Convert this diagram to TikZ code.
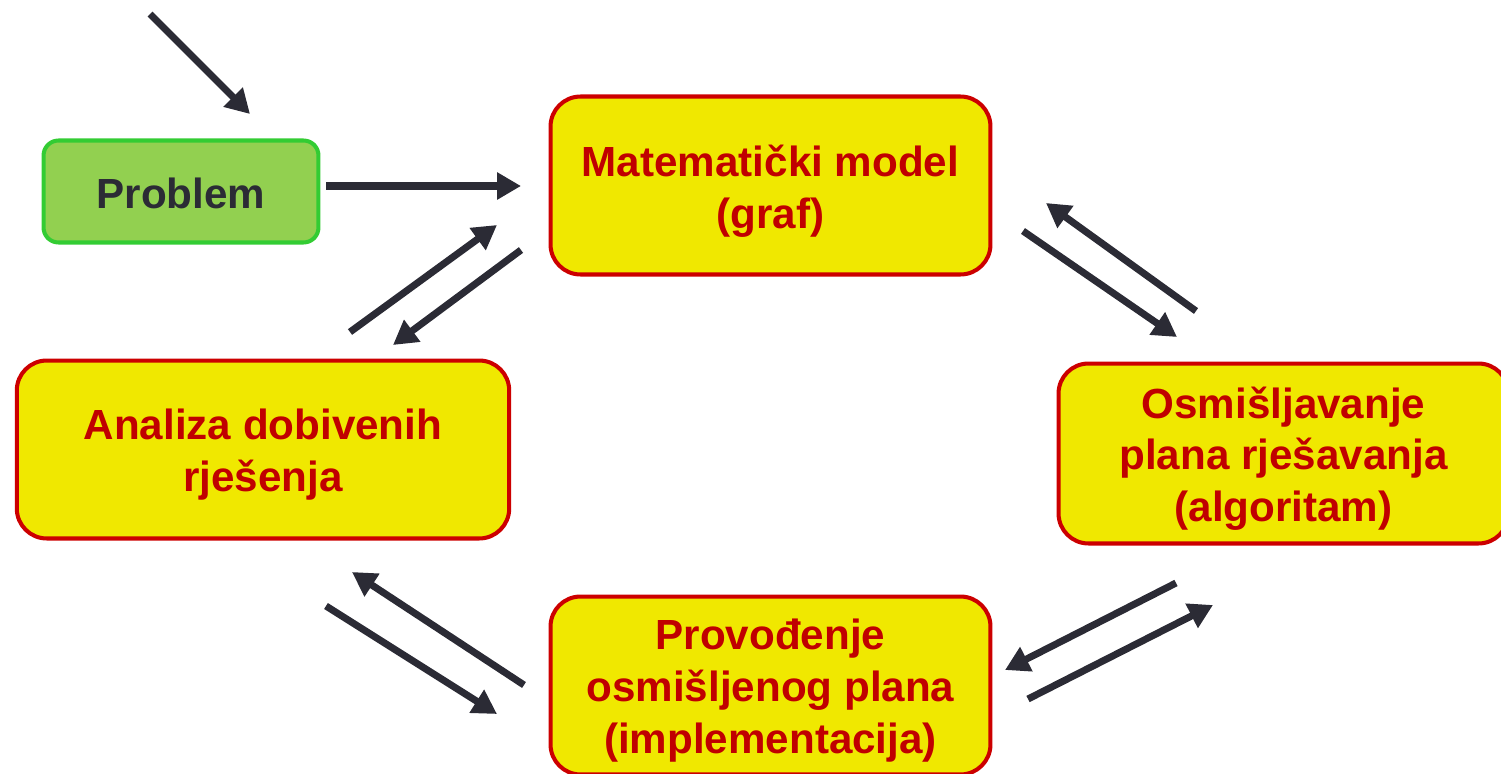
\documentclass[tikz,border=0pt]{standalone}
\usepackage{fontspec}
\setmainfont{Liberation Sans}
\usetikzlibrary{arrows.meta}

\definecolor{boxyellow}{RGB}{240,232,0}
\definecolor{boxred}{RGB}{204,0,0}
\definecolor{textred}{RGB}{192,0,0}
\definecolor{probfill}{RGB}{146,208,80}
\definecolor{probline}{RGB}{51,204,51}
\definecolor{ink}{RGB}{43,43,53}

\begin{document}
\begin{tikzpicture}[x=0.02cm, y=-0.02cm,
  labelfont/.style={font=\fontsize{24}{29.4}\selectfont\bfseries},
  stage/.style={draw=boxred, line width=2.3pt, fill=boxyellow,
    rounded corners=0.6cm, inner sep=0pt},
  stagetext/.style={text=textred, labelfont, align=center, inner sep=0pt},
  startbox/.style={draw=probline, line width=2.3pt, fill=probfill,
    rounded corners=0.3cm, inner sep=0pt},
  starttext/.style={text=ink, labelfont, inner sep=0pt},
  flow/.style={draw=ink, line width=4pt,
    -{Triangle[length=0.48cm, width=0.52cm]}}]

\useasboundingbox (0,0) rectangle (1501,774);
\clip (0,0) rectangle (1501,774);

% boxes of the problem-solving cycle
\node[startbox, minimum width=5.5cm, minimum height=2.04cm] (problem) at (181,191.5) {};
\node[stage, minimum width=8.8cm, minimum height=3.56cm] (model) at (770.5,185.5) {};
\node[stage, minimum width=9.85cm, minimum height=3.56cm] (analysis) at (263,449.5) {};
\node[stage, minimum width=9.0cm, minimum height=3.6cm] (plan) at (1283.5,453.5) {};
\node[stage, minimum width=8.8cm, minimum height=3.56cm] (impl) at (770.5,685.5) {};

% their labels
\node[starttext] (problemText) at ([yshift=-0.04cm]problem.center) {Problem};
\node[stagetext] (modelText) at ([yshift=-0.11cm]model.center)
  {Matematički model\\(graf)};
\node[stagetext] (analysisText) at ([yshift=-0.1cm]analysis.center)
  {Analiza dobivenih\\rješenja};
\node[stagetext] (planText) at ([yshift=-0.1cm]plan.center)
  {Osmišljavanje\\plana rješavanja\\(algoritam)};
\node[stagetext] (implText) at ([yshift=-0.1cm]impl.center)
  {Provođenje\\osmišljenog plana\\(implementacija)};

% arrow ends
\coordinate (entryA) at (150,14);   \coordinate (entryB) at (250,114);
\coordinate (probA)  at (326,186);  \coordinate (probB)  at (521,186);
\coordinate (anUpA)  at (350,332);  \coordinate (anUpB)  at (497,225);
\coordinate (moDnA)  at (521,250);  \coordinate (moDnB)  at (393,345);
\coordinate (moPlA)  at (1023,231); \coordinate (moPlB)  at (1177,337);
\coordinate (plMoA)  at (1196,311); \coordinate (plMoB)  at (1046,203);
\coordinate (plImA)  at (1176,583); \coordinate (plImB)  at (1005,670);
\coordinate (imPlA)  at (1028,699); \coordinate (imPlB)  at (1213,605);
\coordinate (imAnA)  at (524,685);  \coordinate (imAnB)  at (352,572);
\coordinate (anImA)  at (326,606);  \coordinate (anImB)  at (497,714);

% connectors
\draw[flow] (entryA) -- (entryB);
\draw[flow] (probA) -- (probB);
\draw[flow] (anUpA) -- (anUpB);
\draw[flow] (moDnA) -- (moDnB);
\draw[flow] (moPlA) -- (moPlB);
\draw[flow] (plMoA) -- (plMoB);
\draw[flow] (plImA) -- (plImB);
\draw[flow] (imPlA) -- (imPlB);
\draw[flow] (imAnA) -- (imAnB);
\draw[flow] (anImA) -- (anImB);
\end{tikzpicture}
\end{document}
